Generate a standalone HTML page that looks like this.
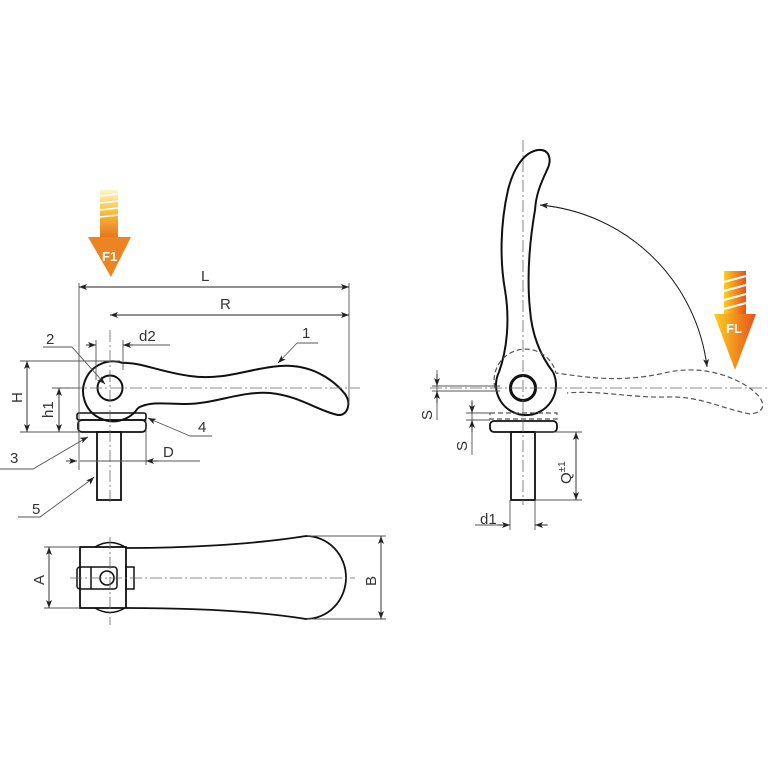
<!DOCTYPE html>
<html><head><meta charset="utf-8"><style>
html,body{margin:0;padding:0;background:#fff}
svg{display:block}
text{font-family:"Liberation Sans",sans-serif;fill:#333}
</style></head><body>
<svg width="768" height="768" viewBox="0 0 768 768" xmlns="http://www.w3.org/2000/svg">
<defs>
<linearGradient id="g1" x1="0" y1="0" x2="0" y2="1">
<stop offset="0" stop-color="#fff6c8"/><stop offset="0.45" stop-color="#f7c040"/><stop offset="1" stop-color="#e8741a"/></linearGradient>
<linearGradient id="g2" x1="0" y1="0" x2="1" y2="0">
<stop offset="0" stop-color="#fbd020"/><stop offset="1" stop-color="#e8501a"/></linearGradient>
<marker id="a" markerWidth="8" markerHeight="6" refX="8" refY="3" orient="auto" markerUnits="userSpaceOnUse"><path d="M0,0 L8,3 L0,6 L2,3z" fill="#222"/></marker>
</defs>

<rect x="100" y="190" width="18" height="48" fill="url(#g1)"/>
<g stroke="#fff" stroke-width="1.5"><line x1="100" y1="196" x2="118" y2="194"/><line x1="100" y1="203" x2="118" y2="201"/><line x1="100" y1="210" x2="118" y2="208"/><line x1="100" y1="217" x2="118" y2="215"/></g>
<path d="M88,237 L131,237 L111,277 Z" fill="#ec8424"/>
<text x="102" y="261" font-size="13" font-weight="bold" style="fill:#fff">F1</text>

<rect x="724" y="271" width="22" height="44" fill="url(#g2)"/>
<g stroke="#fff" stroke-width="2"><line x1="724" y1="282" x2="746" y2="276"/><line x1="724" y1="291" x2="746" y2="285"/><line x1="724" y1="300" x2="746" y2="294"/><line x1="724" y1="309" x2="746" y2="303"/></g>
<path d="M714,314 L756,314 L735,370 Z" fill="url(#g2)"/>
<text x="726" y="333" font-size="13" font-weight="bold" style="fill:#fff">FL</text>

<g fill="none" stroke="#111" stroke-width="2">
<path d="M123,363 C140,362 160,372 190,376 C225,381 250,368 280,366 C310,364 332,378 345,394 C352,404 347,416 338,415 C318,411 300,396 270,393 C240,391 215,404 185,404 C165,404 150,401 138,408"/>
<path d="M123,363 A30,30 0 1 0 138,408"/>
<circle cx="110" cy="388" r="12.5"/>
<rect x="77" y="413" width="69" height="7" rx="2" stroke-width="1.6"/>
<rect x="78" y="420" width="68" height="12" rx="4" stroke-width="1.8"/>
<rect x="97" y="432" width="24" height="68" stroke-width="1.8"/>
<path d="M499,372 C507,350 510,320 505,290 C500,262 500,225 508,190 C514,166 525,152 538,150 C550,149 552,160 547,170 C540,185 536,195 535,210 C529,245 527,280 530,310 C532,335 540,355 553,372"/>
<path d="M499,372 A30,30 0 1 0 553,372"/>
<circle cx="523" cy="388" r="12.5" stroke-width="3"/>
<rect x="490" y="421" width="67" height="11" rx="4" stroke-width="1.8"/>
<rect x="511" y="432" width="24" height="68" stroke-width="1.8"/>
<rect x="80" y="547" width="46" height="61" stroke-width="1.8"/>
<path d="M126,548 C180,548 250,545 306,536 A40,41.5 0 0 1 306,619 C250,610 180,608 126,608" stroke-width="1.8"/>
<path d="M95,547 Q110,538 125,547 M95,608 Q110,617 125,608" stroke-width="1.5"/>
<rect x="77" y="567" width="40" height="22" rx="3" stroke-width="1.5"/>
<rect x="126" y="567" width="8" height="22" stroke-width="1.5"/>
<line x1="91" y1="567" x2="91" y2="589" stroke-width="1.5"/>
<circle cx="107" cy="578" r="7" stroke-width="1.6"/>
</g>

<g fill="none" stroke="#555" stroke-width="1.2" stroke-dasharray="5,3">
<path d="M495,388 A30,30 0 0 1 556,373 C590,378 620,382 660,374 C690,366 720,370 745,385 C765,397 770,412 750,414 C720,408 700,396 667,397 C630,398 600,390 567,393"/>
<rect x="490" y="413" width="67" height="6"/>
</g>

<g stroke="#555" stroke-width="0.9" fill="none">
<line x1="79" y1="283" x2="79" y2="470"/><line x1="349" y1="283" x2="349" y2="405"/>
<line x1="96" y1="340" x2="96" y2="380"/><line x1="123" y1="340" x2="123" y2="370"/>
<line x1="146" y1="420" x2="146" y2="465"/>
<line x1="20" y1="361" x2="120" y2="361"/><line x1="20" y1="432" x2="80" y2="432"/><line x1="52" y1="388" x2="80" y2="388"/>
<line x1="80" y1="461" x2="200" y2="461"/>
<line x1="88" y1="345" x2="96" y2="345"/><line x1="123" y1="345" x2="170" y2="345"/>
<path d="M297,343 L318,343 M297,343 L279,362"/>
<path d="M43,347 L72,347 L104,383"/>
<path d="M0,469 L33,469 L86,438"/>
<path d="M190,436 L212,436 M190,436 L150,419"/>
<path d="M18,517 L40,517 L92,479"/>
<line x1="432" y1="386" x2="500" y2="386"/><line x1="432" y1="391" x2="500" y2="391"/>
<line x1="437" y1="370" x2="437" y2="420"/>
<line x1="466" y1="413" x2="490" y2="413"/><line x1="466" y1="420" x2="490" y2="420"/>
<line x1="472" y1="400" x2="472" y2="455"/>
<line x1="535" y1="432" x2="582" y2="432"/><line x1="535" y1="500" x2="582" y2="500"/>
<line x1="510" y1="500" x2="510" y2="530"/><line x1="535" y1="500" x2="535" y2="530"/>
<line x1="475" y1="525" x2="510" y2="525"/><line x1="535" y1="525" x2="548" y2="525"/>
<line x1="44" y1="547" x2="80" y2="547"/><line x1="44" y1="608" x2="80" y2="608"/>
<line x1="307" y1="536" x2="386" y2="536"/><line x1="307" y1="619" x2="386" y2="619"/>
</g>
<g stroke="#666" stroke-width="0.8" stroke-dasharray="12,3,2,3" fill="none">
<line x1="70" y1="388" x2="360" y2="388"/><line x1="110" y1="330" x2="110" y2="505"/>
<line x1="430" y1="388" x2="768" y2="388"/><line x1="523" y1="140" x2="523" y2="505"/>
<line x1="70" y1="578" x2="355" y2="578"/><line x1="110" y1="537" x2="110" y2="625"/>
</g>

<g stroke="#222" stroke-width="0.9" fill="none" marker-end="url(#a)">
<line x1="214" y1="287" x2="79" y2="287"/><line x1="214" y1="287" x2="349" y2="287"/>
<line x1="230" y1="315" x2="110" y2="315"/><line x1="230" y1="315" x2="349" y2="315"/>
<line x1="86" y1="345" x2="96" y2="345"/><line x1="133" y1="345" x2="123" y2="345"/>
<line x1="27" y1="396" x2="27" y2="361"/><line x1="27" y1="396" x2="27" y2="432"/>
<line x1="59" y1="410" x2="59" y2="388"/><line x1="59" y1="410" x2="59" y2="432"/>
<line x1="66" y1="461" x2="77" y2="461"/><line x1="158" y1="461" x2="146" y2="461"/>
<line x1="279" y1="362" x2="278" y2="363"/>
<line x1="104" y1="383" x2="105" y2="384"/>
<line x1="86" y1="438" x2="88" y2="437"/>
<line x1="150" y1="419" x2="148" y2="418"/>
<line x1="92" y1="479" x2="94" y2="477"/>
<line x1="437" y1="374" x2="437" y2="386"/><line x1="437" y1="403" x2="437" y2="391"/>
<line x1="472" y1="402" x2="472" y2="413"/><line x1="472" y1="432" x2="472" y2="420"/>
<line x1="576" y1="466" x2="576" y2="432"/><line x1="576" y1="466" x2="576" y2="500"/>
<line x1="498" y1="525" x2="510" y2="525"/><line x1="547" y1="525" x2="535" y2="525"/>
<line x1="49" y1="578" x2="49" y2="547"/><line x1="49" y1="578" x2="49" y2="608"/>
<line x1="381" y1="578" x2="381" y2="536"/><line x1="381" y1="578" x2="381" y2="619"/>
<path d="M707,367 A185,185 0 0 0 540,205"/>
<path d="M540,205 A185,185 0 0 1 707,367"/>
</g>

<g font-size="15">
<text x="201" y="281">L</text>
<text x="220" y="309">R</text>
<text x="139" y="341">d2</text>
<text x="302" y="338">1</text>
<text x="46" y="344">2</text>
<text x="10" y="463">3</text>
<text x="198" y="432">4</text>
<text x="32" y="514">5</text>
<text x="163" y="457">D</text>
<text transform="translate(22,403) rotate(-90)">H</text>
<text transform="translate(53,418) rotate(-90)">h1</text>
<text transform="translate(432,420) rotate(-90)">S</text>
<text transform="translate(467,451) rotate(-90)">S</text>
<text transform="translate(571,484) rotate(-90)">Q<tspan font-size="10" dy="-6">±1</tspan></text>
<text x="480" y="524">d1</text>
<text transform="translate(44,585) rotate(-90)">A</text>
<text transform="translate(376,586) rotate(-90)">B</text>
</g>
</svg>
</body></html>
